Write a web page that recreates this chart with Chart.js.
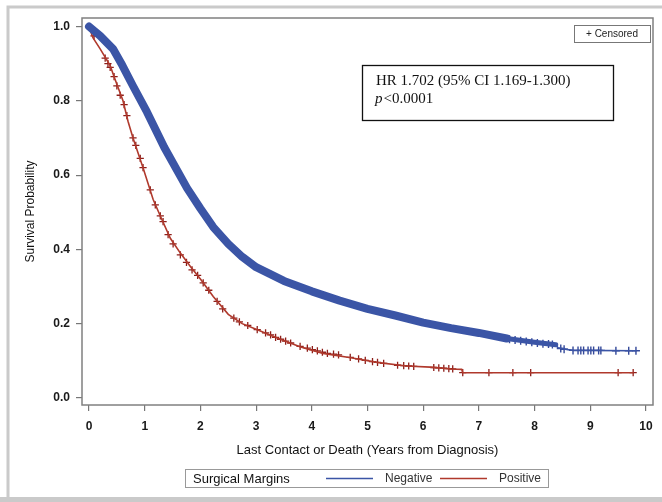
<!DOCTYPE html>
<html>
<head>
<meta charset="utf-8">
<script src="https://cdn.jsdelivr.net/npm/chart.js@4"></script>
<style>body{margin:0;background:#fff}</style>
</head>
<body>
<canvas id="km-chart" width="662" height="502"></canvas>
<script>
// Kaplan-Meier curves (years, survival)
var negTime = [0, 0.2, 0.43, 0.6, 0.79, 1.04, 1.35, 1.76, 2.0, 2.23, 2.5, 2.75, 3.0, 3.5, 4.0, 4.5, 5.0, 5.5, 6.0, 6.5, 7.0, 7.5, 8.0, 8.38, 8.42, 8.6, 8.7, 9.82];
var negSurv = [1.0, 0.975, 0.94, 0.895, 0.84, 0.77, 0.675, 0.565, 0.51, 0.46, 0.415, 0.38, 0.352, 0.315, 0.287, 0.262, 0.24, 0.222, 0.203, 0.188, 0.175, 0.16, 0.15, 0.143, 0.135, 0.13, 0.128, 0.127];
var posTime = [0, 0.07, 0.2, 0.38, 0.45, 0.61, 0.7, 0.79, 0.97, 1.15, 1.28, 1.46, 1.64, 1.82, 2.0, 2.23, 2.5, 2.75, 3.0, 3.4, 3.8, 4.2, 4.7, 5.2, 5.7, 6.13, 6.5, 6.69, 6.71, 9.78];
var posSurv = [1.0, 0.97, 0.94, 0.895, 0.865, 0.80, 0.745, 0.70, 0.62, 0.535, 0.49, 0.43, 0.39, 0.354, 0.32, 0.273, 0.225, 0.20, 0.185, 0.16, 0.137, 0.12, 0.108, 0.095, 0.086, 0.083, 0.078, 0.077, 0.068, 0.068];

// censored observations
var negCensTime = [7.55, 7.65, 7.75, 7.85, 7.95, 8.05, 8.15, 8.25, 8.32, 8.47, 8.53, 8.69, 8.78, 8.83, 8.88, 8.96, 9.01, 9.06, 9.15, 9.19, 9.46, 9.69, 9.82];
var negCensSurv = [0.158, 0.156, 0.154, 0.152, 0.15, 0.148, 0.146, 0.145, 0.144, 0.133, 0.131, 0.128, 0.128, 0.128, 0.128, 0.128, 0.128, 0.128, 0.128, 0.128, 0.127, 0.127, 0.127];
var posCensTime = [0.09, 0.29, 0.34, 0.38, 0.45, 0.5, 0.56, 0.63, 0.68, 0.79, 0.84, 0.92, 0.97, 1.1, 1.19, 1.28, 1.33, 1.42, 1.51, 1.64, 1.75, 1.85, 1.95, 2.05, 2.15, 2.3, 2.4, 2.6, 2.7, 2.85, 3.02, 3.17, 3.26, 3.35, 3.44, 3.53, 3.62, 3.79, 3.92, 4.01, 4.1, 4.19, 4.28, 4.39, 4.48, 4.69, 4.84, 4.96, 5.09, 5.18, 5.29, 5.54, 5.65, 5.74, 5.83, 6.19, 6.28, 6.37, 6.46, 6.53, 6.71, 7.18, 7.61, 7.93, 9.5, 9.77];
var posCensSurv = [0.975, 0.915, 0.90, 0.89, 0.865, 0.84, 0.815, 0.79, 0.76, 0.70, 0.68, 0.645, 0.62, 0.56, 0.52, 0.49, 0.475, 0.44, 0.415, 0.385, 0.365, 0.345, 0.33, 0.31, 0.29, 0.26, 0.24, 0.215, 0.205, 0.195, 0.184, 0.175, 0.17, 0.163, 0.158, 0.153, 0.148, 0.139, 0.134, 0.13, 0.127, 0.123, 0.12, 0.118, 0.116, 0.109, 0.105, 0.101, 0.098, 0.096, 0.093, 0.088, 0.087, 0.086, 0.085, 0.082, 0.081, 0.08, 0.079, 0.078, 0.068, 0.068, 0.068, 0.068, 0.068, 0.068];

var xTicks = [0, 1, 2, 3, 4, 5, 6, 7, 8, 9, 10];
var yTicks = [0, 0.2, 0.4, 0.6, 0.8, 1.0];
var groupTitle = "Surgical Margins";
var groupLabels = ["Negative", "Positive"];
var statLines = ["HR 1.702 (95% CI 1.169-1.300)", "<0.0001"];

var blue = "#3b55a6";
var red = "#b0392c";
var sans = "'Liberation Sans', Arial, sans-serif";

function pts(xs, ys) {
  return xs.map(function (x, i) { return { x: x, y: ys[i] }; });
}

var decor = {
  id: "decor",
  beforeDraw: function (chart) {
    var c = chart.ctx;
    c.save();
    c.fillStyle = "#fff";
    c.fillRect(0, 0, chart.width, chart.height);
    c.restore();
  },
  afterDraw: function (chart) {
    var c = chart.ctx, a = chart.chartArea;
    c.save();
    // plot frame
    c.strokeStyle = "#808080";
    c.lineWidth = 1.5;
    c.strokeRect(a.left, a.top, a.right - a.left, a.bottom - a.top);

    // outer grey frame
    c.strokeStyle = "#cacaca";
    c.lineWidth = 3;
    c.beginPath();
    c.moveTo(8, 502);
    c.lineTo(8, 7);
    c.lineTo(662, 7);
    c.stroke();
    c.fillStyle = "#cacaca";
    c.fillRect(0, 497, 662, 5);

    // censored key
    c.strokeStyle = "#777";
    c.lineWidth = 1;
    c.strokeRect(574.5, 25.5, 76, 17);
    c.fillStyle = "#222";
    c.font = "10px " + sans;
    c.textBaseline = "middle";
    c.textAlign = "center";
    c.fillText("+ Censored", 612, 34);

    // hazard ratio box
    c.strokeStyle = "#111";
    c.lineWidth = 1.3;
    c.strokeRect(362.5, 65.5, 251, 55);
    c.fillStyle = "#111";
    c.textAlign = "left";
    c.font = "15px 'Liberation Serif', 'Times New Roman', serif";
    c.fillText(statLines[0], 376, 81);
    c.font = "italic 15px 'Liberation Serif', 'Times New Roman', serif";
    c.fillText("p", 375, 99);
    var pw = c.measureText("p").width;
    c.font = "15px 'Liberation Serif', 'Times New Roman', serif";
    c.fillText(statLines[1], 375 + pw + 1, 99);

    // legend
    c.strokeStyle = "#999";
    c.lineWidth = 1;
    c.strokeRect(185.5, 469.5, 363, 18);
    c.font = "13px " + sans;
    c.fillStyle = "#111";
    c.fillText(groupTitle, 193, 479);
    var ds = chart.data.datasets;
    var keyX = [326, 440];
    c.font = "12px " + sans;
    for (var i = 0; i < 2; i++) {
      c.strokeStyle = ds[i].borderColor;
      c.lineWidth = 1.5;
      c.beginPath();
      c.moveTo(keyX[i], 478.5);
      c.lineTo(keyX[i] + 47, 478.5);
      c.stroke();
      c.fillStyle = "#333";
      c.fillText(ds[i].label, keyX[i] + 59, 479);
    }
    c.restore();
  }
};

var ctx = document.getElementById("km-chart").getContext("2d");
var chart = new Chart(ctx, {
  type: "scatter",
  data: {
    datasets: [
      {
        label: groupLabels[0],
        data: pts(negTime, negSurv),
        showLine: true,
        borderColor: blue,
        borderWidth: 8,
        borderCapStyle: "round",
        borderJoinStyle: "round",
        pointRadius: 0,
        segment: {
          borderWidth: function (s) {
            var x = s.p0.parsed.x;
            return x < 7.4 ? 8 : (x < 8.38 ? 5 : 1.6);
          }
        }
      },
      {
        label: groupLabels[1],
        data: pts(posTime, posSurv),
        showLine: true,
        borderColor: red,
        borderWidth: 1.6,
        pointRadius: 0
      },
      {
        label: "neg censored",
        data: pts(negCensTime, negCensSurv),
        pointStyle: "cross",
        pointRadius: 4,
        pointBorderColor: "#34499a",
        pointBorderWidth: 1.4
      },
      {
        label: "pos censored",
        data: pts(posCensTime, posCensSurv),
        pointStyle: "cross",
        pointRadius: 3.6,
        pointBorderColor: "#8e1f1a",
        pointBorderWidth: 1.3
      }
    ]
  },
  options: {
    responsive: false,
    animation: false,
    layout: { padding: { top: 18, right: 9, left: 0, bottom: 0 } },
    plugins: { legend: { display: false }, tooltip: { enabled: false } },
    scales: {
      x: {
        type: "linear",
        min: -0.126,
        max: 10.126,
        afterBuildTicks: function (s) { s.ticks = xTicks.map(function (v) { return { value: v }; }); },
        afterFit: function (s) { s.height = 97; },
        grid: { drawOnChartArea: false, tickLength: 6, color: "#777", lineWidth: 1.2 },
        border: { display: false },
        ticks: {
          autoSkip: false,
          maxRotation: 0,
          padding: 8,
          color: "#1a1a1a",
          font: { family: sans, size: 12, weight: "bold" },
          callback: function (v) { return String(v); }
        },
        title: {
          display: true,
          text: "Last Contact or Death (Years from Diagnosis)",
          color: "#111",
          font: { family: sans, size: 13 },
          padding: { top: 0, bottom: 44 }
        }
      },
      y: {
        type: "linear",
        min: -0.019,
        max: 1.023,
        afterBuildTicks: function (s) { s.ticks = yTicks.map(function (v) { return { value: v }; }); },
        afterFit: function (s) { s.width = 82; },
        grid: { drawOnChartArea: false, tickLength: 6, color: "#777", lineWidth: 1.2 },
        border: { display: false },
        ticks: {
          padding: 6,
          color: "#1a1a1a",
          font: { family: sans, size: 12, weight: "bold" },
          callback: function (v) { return v.toFixed(1); }
        },
        title: {
          display: true,
          text: "Survival Probability",
          color: "#111",
          font: { family: sans, size: 12 },
          padding: { top: 23, bottom: 0 }
        }
      }
    }
  },
  plugins: [decor]
});
</script>
</body>
</html>
